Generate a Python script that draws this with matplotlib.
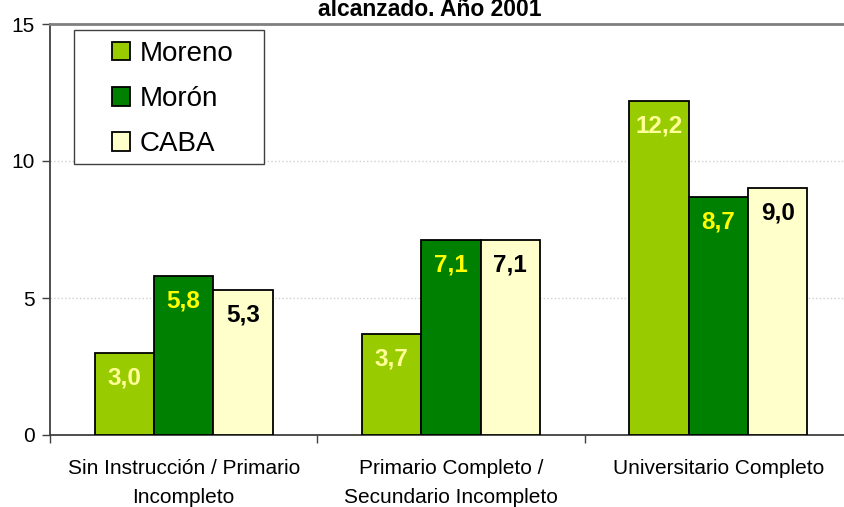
import numpy as np
import matplotlib.pyplot as plt
from matplotlib.patches import Rectangle
from matplotlib.ticker import FixedLocator

categories = ['Sin Instrucción / Primario\nIncompleto',
              'Primario Completo /\nSecundario Incompleto',
              'Universitario Completo']
series = ['Moreno', 'Morón', 'CABA']
moreno = [3.0, 3.7, 12.2]
moron = [5.8, 7.1, 8.7]
caba = [5.3, 7.1, 9.0]

colors = ['#99CC00', '#008000', '#FFFFCC']
label_colors = ['#FFFF99', '#FFFF00', 'black']

plt.rcParams['font.family'] = ['Liberation Sans', 'DejaVu Sans']

fig = plt.figure(figsize=(8.44, 5.07), dpi=100)
W, H = 844, 507
ax = fig.add_axes([50 / W, (H - 435) / H, 802 / W, 411 / H])

x = np.arange(len(categories))
width = 0.222
for i, (name, vals) in enumerate(zip(series, [moreno, moron, caba])):
    pos = x + (i - 1) * width
    ax.bar(pos, vals, width, color=colors[i], edgecolor='black',
           linewidth=1.3, label=name, zorder=3)
    for px, v in zip(pos, vals):
        ax.annotate(f'{v:.1f}'.replace('.', ','), (px, v), xytext=(0, -25),
                    textcoords='offset pixels', ha='center', va='center',
                    fontsize=17.5, fontweight='bold', color=label_colors[i],
                    zorder=4)

ax.set_xlim(-0.5, 2.5)
ax.set_ylim(0, 15)
ax.set_yticks([0, 5, 10, 15])
ax.tick_params(axis='y', labelsize=15, length=6, width=1, color='#404040', pad=5)
ax.yaxis.grid(True, color='#D0D0D0', linestyle=':', linewidth=1, zorder=0)

ax.set_xticks(x)
ax.set_xticklabels(categories, fontsize=15, linespacing=1.7)
ax.tick_params(axis='x', which='major', length=0, pad=17)
ax.xaxis.set_minor_locator(FixedLocator([-0.5, 0.5, 1.5, 2.5]))
ax.tick_params(axis='x', which='minor', length=6, width=1, color='#404040')

for s in ['left', 'bottom']:
    ax.spines[s].set_color('#404040')
    ax.spines[s].set_linewidth(1.3)
ax.spines['top'].set_color('#808080')
ax.spines['top'].set_linewidth(2)
ax.spines['right'].set_visible(False)

# legend box drawn separately (wider left padding than matplotlib allows)
to_ax = ax.transAxes.inverted()
(x0, y0), (x1, y1) = to_ax.transform([(74, H - 164), (264, H - 30)])
ax.add_patch(Rectangle((x0, y0), x1 - x0, y1 - y0, transform=ax.transAxes,
                       facecolor='white', edgecolor='#404040', linewidth=1,
                       zorder=5))
lx, ly = to_ax.transform([(106, H - 35)])[0]
leg = ax.legend(loc='upper left', bbox_to_anchor=(lx, ly), borderaxespad=0,
                fontsize=20, frameon=False, handlelength=0.65,
                handleheight=0.65, handletextpad=0.36, labelspacing=0.7,
                borderpad=0.2)
leg.set_zorder(6)

fig.text(430 / W, 1 - 10 / H, 'alcanzado. Año 2001', ha='center', va='center',
         fontsize=16.5, fontweight='bold')

fig.savefig('out.png', dpi=100)
